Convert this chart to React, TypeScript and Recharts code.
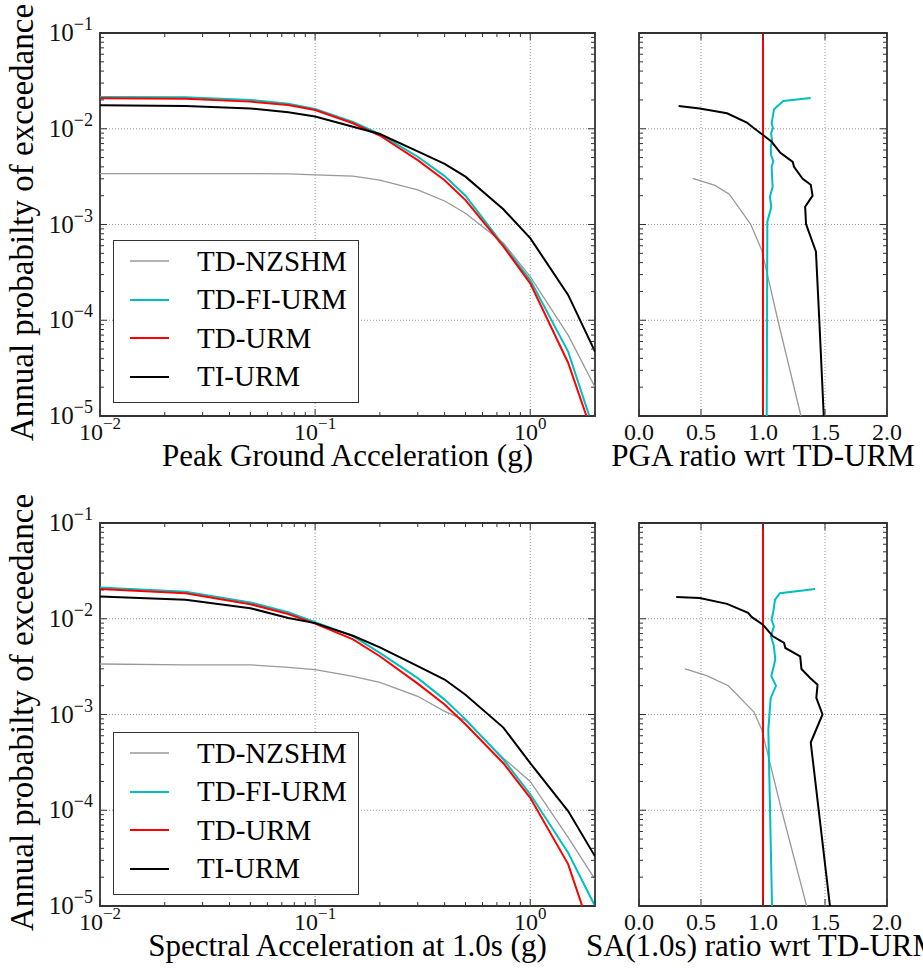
import React from 'react';
import { LineChart, Line, XAxis, YAxis, ReferenceLine, ReferenceArea, Legend } from 'recharts';

const FONT =
  "'Liberation Serif', 'DejaVu Serif', 'Noto Serif', Tinos, 'Nimbus Roman', FreeSerif, Times, 'Times New Roman', serif";

// series meta (plot order = legend order)
const seriesNames = ['TD-NZSHM', 'TD-FI-URM', 'TD-URM', 'TI-URM'];
const seriesKeys = ['nz', 'fi', 'td', 'ti'];
const seriesColors = ['#999999', '#00bfbf', '#ff0000', '#000000'];
const seriesWidths = [1.3, 2, 2, 2];

// intensity measure levels (g)
const imls = [0.01, 0.025, 0.05, 0.075, 0.1, 0.15, 0.2, 0.3, 0.4, 0.5, 0.75, 1.0, 1.5, 2.0];

// hazard curves, PGA
const pgaNz = [0.0034, 0.0034, 0.0034, 0.00338, 0.0033, 0.0032, 0.0029, 0.0023, 0.00176, 0.00131, 0.00064, 0.000285, 7.0e-5, 2.0e-5];
const pgaFi = [0.0215, 0.0213, 0.02, 0.0183, 0.0161, 0.0118, 0.0088, 0.0051, 0.0032, 0.002, 0.00061, 0.000263, 4.7e-5, 6.6e-6];
const pgaTd = [0.0208, 0.0206, 0.0192, 0.0177, 0.0157, 0.0114, 0.0085, 0.0047, 0.0029, 0.0018, 0.00059, 0.000243, 3.6e-5, 5.5e-6];
const pgaTi = [0.0176, 0.0173, 0.0163, 0.0149, 0.0134, 0.0105, 0.0088, 0.0058, 0.0043, 0.00316, 0.00144, 0.00072, 1.84e-4, 4.7e-5];

// hazard curves, SA(1.0s)
const saNz = [0.00337, 0.0033, 0.0033, 0.00311, 0.00294, 0.0025, 0.00217, 0.00155, 0.00108, 8.7e-4, 3.5e-4, 2.0e-4, 5.2e-5, 1.9e-5];
const saFi = [0.0212, 0.0191, 0.0148, 0.0117, 0.0092, 0.0066, 0.0044, 0.0024, 0.00143, 8.9e-4, 3.4e-4, 1.47e-4, 3.6e-5, 1.0e-5];
const saTd = [0.0204, 0.0185, 0.0142, 0.0112, 0.0089, 0.0061, 0.00406, 0.0021, 0.00127, 7.9e-4, 3.1e-4, 1.35e-4, 2.74e-5, 4.0e-6];
const saTi = [0.0171, 0.0158, 0.0129, 0.0102, 0.009, 0.00665, 0.00502, 0.0032, 0.00232, 0.00161, 7.3e-4, 3.1e-4, 9.8e-5, 3.3e-5];

// ratio wrt TD-URM, PGA (probability, ratio)
const pgaRatioNzP = [0.00303, 0.00256, 0.00207, 0.00101, 5.4e-4, 1.0e-4, 1.0e-5];
const pgaRatioNzR = [0.433, 0.613, 0.728, 0.9, 0.99, 1.12, 1.306];
const pgaRatioFiP = [0.0209, 0.0195, 0.016, 0.0114, 0.0101, 0.009, 0.0076, 0.0065, 0.0053, 0.0046, 0.004, 0.00316, 0.00248, 0.00195, 0.00153, 0.00107, 1.0e-5];
const pgaRatioFiR = [1.385, 1.164, 1.089, 1.07, 1.08, 1.065, 1.073, 1.063, 1.065, 1.083, 1.07, 1.073, 1.078, 1.056, 1.067, 1.035, 1.03];
const pgaRatioTdP = [0.1, 1.0e-5];
const pgaRatioTdR = [1.0, 1.0];
const pgaRatioTiP = [0.0173, 0.0163, 0.0145, 0.0116, 0.0103, 0.0086, 0.0073, 0.0056, 0.0045, 0.004, 0.003, 0.0026, 0.002, 0.00153, 0.00101, 5.2e-4, 1.0e-4, 1.0e-5];
const pgaRatioTiR = [0.32, 0.49, 0.71, 0.87, 0.92, 1.0, 1.07, 1.14, 1.24, 1.25, 1.32, 1.385, 1.4, 1.34, 1.347, 1.427, 1.454, 1.49];

// ratio wrt TD-URM, SA(1.0s)
const saRatioNzP = [0.00299, 0.00255, 0.002, 0.00106, 7.0e-4, 1.0e-4, 1.0e-5];
const saRatioNzR = [0.371, 0.546, 0.72, 0.927, 0.989, 1.15, 1.352];
const saRatioFiP = [0.0205, 0.0185, 0.0158, 0.0119, 0.00977, 0.00833, 0.00655, 0.00516, 0.00374, 0.00251, 0.00199, 0.00149, 7.0e-4, 1.0e-5];
const saRatioFiR = [1.42, 1.137, 1.097, 1.083, 1.069, 1.088, 1.064, 1.088, 1.099, 1.067, 1.105, 1.062, 1.043, 1.073];
const saRatioTdP = [0.1, 1.0e-5];
const saRatioTdR = [1.0, 1.0];
const saRatioTiP = [0.0169, 0.0165, 0.0143, 0.0115, 0.0104, 0.00866, 0.00655, 0.00558, 0.00495, 0.00405, 0.00299, 0.00241, 0.00205, 0.00149, 0.001, 5.1e-4, 1.0e-5];
const saRatioTiR = [0.3, 0.49, 0.71, 0.88, 0.91, 1.0, 1.08, 1.17, 1.18, 1.3, 1.31, 1.38, 1.44, 1.43, 1.48, 1.385, 1.54];

// ticks
const logXTicks = [0.01, 0.02, 0.03, 0.04, 0.05, 0.06, 0.07, 0.08, 0.09, 0.1, 0.2, 0.3, 0.4, 0.5, 0.6, 0.7, 0.8, 0.9, 1, 2];
const logYTicks = [1e-5, 1e-4, 1e-3, 1e-2].flatMap((d) => [1, 2, 3, 4, 5, 6, 7, 8, 9].map((k) => k * d)).concat([1e-1]);
const ratioTicks = [0, 0.5, 1, 1.5, 2];

// layout (chart-local px)
const PLOT_TOP = 33;
const PLOT_BOTTOM = 416;
const TICK_BASE = PLOT_BOTTOM + 24;
const XLABEL_BASE = PLOT_BOTTOM + 50;

const zip = (ps: number[], rs: number[]) => ps.map((p, i) => ({ p, r: rs[i] }));

const isDecade = (v: number) => Math.abs(Math.log10(v) - Math.round(Math.log10(v))) < 1e-6;
const expLabel = (v: number) => {
  const e = Math.round(Math.log10(v));
  return e < 0 ? '\u2212' + -e : String(e);
};

const logXTick = (props: any) => {
  const { x, payload } = props;
  const major = isDecade(payload.value);
  const len = major ? 7 : 4;
  return (
    <g>
      <line x1={x} x2={x} y1={PLOT_BOTTOM} y2={PLOT_BOTTOM - len} stroke="#333" strokeWidth={1} />
      <line x1={x} x2={x} y1={PLOT_TOP} y2={PLOT_TOP + len} stroke="#333" strokeWidth={1} />
      {major && (
        <text x={x} y={TICK_BASE} textAnchor="middle" style={{ fontFamily: FONT }} fontSize={24} fill="#111">
          10<tspan dy={-11} fontSize={17}>{expLabel(payload.value)}</tspan>
        </text>
      )}
    </g>
  );
};

const ratioXTick = (props: any) => {
  const { x, payload } = props;
  return (
    <g>
      <line x1={x} x2={x} y1={PLOT_BOTTOM} y2={PLOT_BOTTOM - 7} stroke="#333" strokeWidth={1} />
      <line x1={x} x2={x} y1={PLOT_TOP} y2={PLOT_TOP + 7} stroke="#333" strokeWidth={1} />
      <text x={x} y={TICK_BASE} textAnchor="middle" style={{ fontFamily: FONT }} fontSize={24} fill="#111">
        {payload.value.toFixed(1)}
      </text>
    </g>
  );
};

const makeLogYTick = (left: number, right: number, showLabel: boolean) => (props: any) => {
  const { y, payload } = props;
  const major = isDecade(payload.value);
  const len = major ? 7 : 4;
  return (
    <g>
      <line x1={left} x2={left + len} y1={y} y2={y} stroke="#333" strokeWidth={1} />
      <line x1={right - len} x2={right} y1={y} y2={y} stroke="#333" strokeWidth={1} />
      {showLabel && major && (
        <text x={left - 7} y={y + 8} textAnchor="end" style={{ fontFamily: FONT }} fontSize={25} fill="#111">
          10<tspan dy={-11} fontSize={18}>{expLabel(payload.value)}</tspan>
        </text>
      )}
    </g>
  );
};

const legendContent = (props: any) => {
  const items = [...(props.payload || [])].sort(
    (a: any, b: any) => seriesNames.indexOf(a.value) - seriesNames.indexOf(b.value)
  );
  return (
    <div
      style={{
        width: 246,
        height: 163,
        boxSizing: 'border-box',
        border: '1.8px solid #333',
        background: '#fff',
        paddingTop: 1,
      }}
    >
      {items.map((it: any, i: number) => {
        const idx = seriesNames.indexOf(it.value);
        return (
          <div key={i} style={{ display: 'flex', alignItems: 'center', height: 38.5 }}>
            <svg width={83} height={38} style={{ flex: 'none' }}>
              <line x1={16} x2={55} y1={19} y2={19} stroke={it.color} strokeWidth={seriesWidths[idx] || 2} />
            </svg>
            <span style={{ fontFamily: FONT, fontSize: 29, color: '#000', whiteSpace: 'nowrap' }}>{it.value}</span>
          </div>
        );
      })}
    </div>
  );
};

const gridStyle = { stroke: '#999', strokeDasharray: '1 2', strokeWidth: 1 };

function HazardPanel({ top, curves, xLabel, legendTop }: { top: number; curves: number[][]; xLabel: string; legendTop: number }) {
  const data = imls.map((x, i) => {
    const row: Record<string, number> = { x };
    seriesKeys.forEach((k, j) => {
      row[k] = curves[j][i];
    });
    return row;
  });
  return (
    <div style={{ position: 'absolute', left: 0, top }}>
      <LineChart width={600} height={480} margin={{ top: PLOT_TOP, right: 5, bottom: 0, left: 0 }} data={data}>
        <XAxis
          dataKey="x"
          type="number"
          scale="log"
          domain={[0.01, 2]}
          allowDataOverflow
          ticks={logXTicks}
          interval={0}
          height={64}
          axisLine={false}
          tickLine={false}
          tick={logXTick}
          label={() => (
            <text x={347.5} y={XLABEL_BASE} textAnchor="middle" style={{ fontFamily: FONT }} fontSize={31} fill="#000">
              {xLabel}
            </text>
          )}
        />
        <YAxis
          type="number"
          scale="log"
          domain={[1e-5, 1e-1]}
          allowDataOverflow
          ticks={logYTicks}
          interval={0}
          width={100}
          axisLine={false}
          tickLine={false}
          tick={makeLogYTick(100, 595, true)}
          label={() => (
            <text transform="rotate(-90)" x={-222.5} y={33} textAnchor="middle" style={{ fontFamily: FONT }} fontSize={33} fill="#000">
              Annual probabilty of exceedance
            </text>
          )}
        />
        <ReferenceLine x={0.1} {...gridStyle} />
        <ReferenceLine x={1} {...gridStyle} />
        <ReferenceLine y={1e-2} {...gridStyle} />
        <ReferenceLine y={1e-3} {...gridStyle} />
        <ReferenceLine y={1e-4} {...gridStyle} />
        {seriesKeys.map((k, i) => (
          <Line
            key={k}
            type="linear"
            dataKey={k}
            name={seriesNames[i]}
            stroke={seriesColors[i]}
            strokeWidth={seriesWidths[i]}
            dot={false}
            activeDot={false}
            isAnimationActive={false}
          />
        ))}
        <ReferenceArea x1={0.01} x2={2} y1={1e-5} y2={1e-1} fill="none" stroke="#333" strokeWidth={1.8} />
        <Legend
          layout="vertical"
          align="center"
          verticalAlign="middle"
          content={legendContent}
          wrapperStyle={{ left: 113, top: legendTop, width: 246, height: 163 }}
        />
      </LineChart>
    </div>
  );
}

function RatioPanel({ top, series, xLabel }: { top: number; series: { p: number; r: number }[][]; xLabel: string }) {
  return (
    <div style={{ position: 'absolute', left: 560, top }}>
      <LineChart width={363} height={480} margin={{ top: PLOT_TOP, right: 36, bottom: 0, left: 0 }}>
        <XAxis
          dataKey="r"
          type="number"
          domain={[0, 2]}
          allowDataOverflow
          ticks={ratioTicks}
          interval={0}
          height={64}
          axisLine={false}
          tickLine={false}
          tick={ratioXTick}
          label={() => (
            <text x={203} y={XLABEL_BASE} textAnchor="middle" style={{ fontFamily: FONT }} fontSize={31} fill="#000">
              {xLabel}
            </text>
          )}
        />
        <YAxis
          dataKey="p"
          type="number"
          scale="log"
          domain={[1e-5, 1e-1]}
          allowDataOverflow
          ticks={logYTicks}
          interval={0}
          width={79}
          axisLine={false}
          tickLine={false}
          tick={makeLogYTick(79, 327, false)}
        />
        <ReferenceLine x={0.5} {...gridStyle} />
        <ReferenceLine x={1} {...gridStyle} />
        <ReferenceLine x={1.5} {...gridStyle} />
        <ReferenceLine y={1e-2} {...gridStyle} />
        <ReferenceLine y={1e-3} {...gridStyle} />
        <ReferenceLine y={1e-4} {...gridStyle} />
        {series.map((pts, i) => (
          <Line
            key={seriesKeys[i]}
            type="linear"
            data={pts}
            dataKey="p"
            name={seriesNames[i]}
            stroke={seriesColors[i]}
            strokeWidth={seriesWidths[i]}
            dot={false}
            activeDot={false}
            isAnimationActive={false}
          />
        ))}
        <ReferenceArea x1={0} x2={2} y1={1e-5} y2={1e-1} fill="none" stroke="#333" strokeWidth={1.8} />
      </LineChart>
    </div>
  );
}

export default function App() {
  return (
    <div
      style={{
        position: 'absolute',
        left: 0,
        top: 0,
        width: 923,
        height: 973,
        overflow: 'hidden',
        background: '#fff',
        fontFamily: FONT,
      }}
    >
      <HazardPanel top={0} curves={[pgaNz, pgaFi, pgaTd, pgaTi]} xLabel="Peak Ground Acceleration (g)" legendTop={240} />
      <RatioPanel
        top={0}
        series={[zip(pgaRatioNzP, pgaRatioNzR), zip(pgaRatioFiP, pgaRatioFiR), zip(pgaRatioTdP, pgaRatioTdR), zip(pgaRatioTiP, pgaRatioTiR)]}
        xLabel="PGA ratio wrt TD-URM"
      />
      <HazardPanel top={490} curves={[saNz, saFi, saTd, saTi]} xLabel="Spectral Acceleration at 1.0s (g)" legendTop={242} />
      <RatioPanel
        top={490}
        series={[zip(saRatioNzP, saRatioNzR), zip(saRatioFiP, saRatioFiR), zip(saRatioTdP, saRatioTdR), zip(saRatioTiP, saRatioTiR)]}
        xLabel="SA(1.0s) ratio wrt TD-URM"
      />
    </div>
  );
}
